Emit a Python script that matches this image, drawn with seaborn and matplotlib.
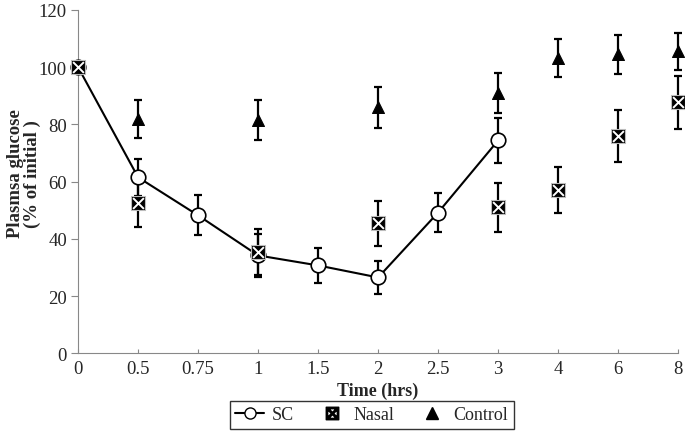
#plot.py
#Plasma glucose after SC, nasal and control dosing

import numpy as np
import pandas as pd
import matplotlib
matplotlib.use('Agg')
import matplotlib.pyplot as plt
from matplotlib.lines import Line2D
import seaborn as sns

#Time points (shown as equally spaced categories)
times = ['0', '0.5', '0.75', '1', '1.5', '2', '2.5', '3', '4', '6', '8']

#SC group (no samples after 3 hrs)
sc_mean = [100, 61.5, 48.2, 34.2, 30.7, 26.5, 49.2, 74.4, np.nan, np.nan, np.nan]
sc_err = [0, 6.4, 7.0, 7.5, 6.2, 5.9, 6.9, 7.9, np.nan, np.nan, np.nan]

#Nasal group
nasal_mean = [100, 52.4, np.nan, 35.4, np.nan, 45.4, np.nan, 51.0, 57.0, 76.0, 87.7]
nasal_err = [0, 8.1, np.nan, 7.9, np.nan, 8.0, np.nan, 8.6, 8.1, 9.1, 9.2]

#Control group
control_mean = [100, 82.0, np.nan, 81.4, np.nan, 86.0, np.nan, 90.9, 103.3, 104.5, 105.5]
control_err = [0, 6.6, np.nan, 7.0, np.nan, 7.1, np.nan, 7.0, 6.6, 6.8, 6.6]

df = pd.DataFrame({'Time': times, 'pos': range(len(times)),
                   'SC': sc_mean, 'SC_err': sc_err,
                   'Nasal': nasal_mean, 'Nasal_err': nasal_err,
                   'Control': control_mean, 'Control_err': control_err})

sns.set_style('ticks')
plt.rcParams['font.family'] = ['Liberation Serif', 'DejaVu Serif']

fig, ax = plt.subplots(figsize=(6.85, 4.39), dpi=100)
fig.subplots_adjust(left=0.114, right=0.99, top=0.975, bottom=0.193)

#Error bars first so markers sit on top
for col in ['Control', 'Nasal', 'SC']:
    ax.errorbar(df['pos'], df[col], yerr=df[col + '_err'], fmt='none',
                ecolor='black', elinewidth=1.6, capsize=3.2, capthick=1.6,
                zorder=2, clip_on=False)

#Control: filled triangles
sns.scatterplot(data=df, x='pos', y='Control', marker='^', s=75, color='black',
                edgecolor='black', ax=ax, zorder=3, clip_on=False)

#SC: line with open circles
sc = df.dropna(subset=['SC'])
sns.lineplot(data=sc, x='pos', y='SC', color='black', linewidth=1.5, ax=ax, zorder=4)
sns.scatterplot(data=sc, x='pos', y='SC', marker='o', s=110, color='white',
                edgecolor='black', linewidth=1.2, ax=ax, zorder=5, clip_on=False)

#Nasal: black square with white cross
sns.scatterplot(data=df, x='pos', y='Nasal', marker='s', s=110, color='black',
                edgecolor='#bbbbbb', linewidth=0.8, ax=ax, zorder=6, clip_on=False)
sns.scatterplot(data=df, x='pos', y='Nasal', marker='x', s=60, color='white',
                linewidth=1.4, ax=ax, zorder=7, clip_on=False)

ax.set_xlim(0, len(times) - 1)
ax.set_ylim(0, 120)
ax.set_xticks(range(len(times)))
ax.set_xticklabels(times)
ax.set_yticks(range(0, 121, 20))
ax.tick_params(labelsize=13.5, length=4, color='#888888')
ax.tick_params(axis='x', direction='in', length=3, pad=5)
ax.tick_params(axis='y', direction='out', length=5, pad=3)
for side in ['top', 'right']:
    ax.spines[side].set_visible(False)
for side in ['left', 'bottom']:
    ax.spines[side].set_color('#888888')
ax.set_xlabel('Time (hrs)', fontsize=13, fontweight='bold', labelpad=3)
ax.set_ylabel('Plasmsa glucose\n(% of initial )', fontsize=13.5, fontweight='bold',
              linespacing=0.95)
ax.yaxis.set_label_coords(-0.062, 0.525)

#Legend below the plot
handles = [
    Line2D([0], [0], color='black', marker='o', markerfacecolor='white',
           markeredgecolor='black', markersize=8, linewidth=1.5),
    Line2D([0], [0], color='black', marker='$\u22a0$', linestyle='none', markersize=9),
    Line2D([0], [0], color='black', marker='^', linestyle='none', markersize=8),
]
fig.legend(handles, ['SC', 'Nasal', 'Control'], loc='center', bbox_to_anchor=(0.543, 0.053),
           ncol=3, frameon=True, fancybox=False, edgecolor='black', fontsize=13,
           handlelength=1.6, columnspacing=1.3, handletextpad=0.4, borderpad=0.3)

plt.savefig('out.png', dpi=100)
